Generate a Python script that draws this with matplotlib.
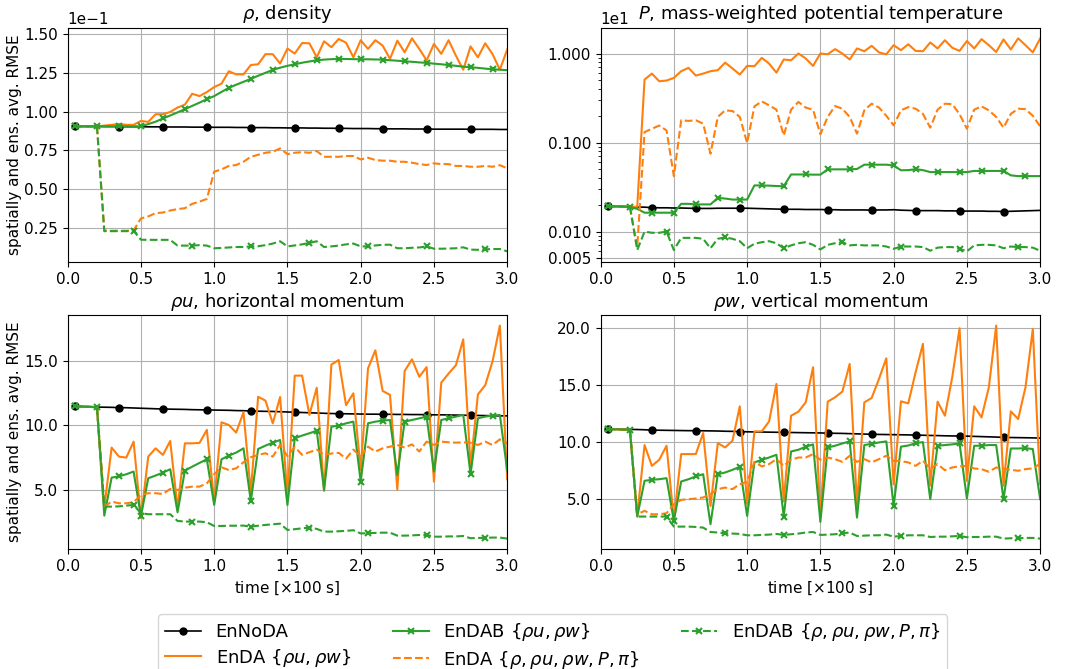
import numpy as np
import matplotlib
matplotlib.use('Agg')
import matplotlib.pyplot as plt
from matplotlib.ticker import FuncFormatter, MultipleLocator, FixedLocator, NullFormatter

# time axis, units of 100 s
t = np.round(np.arange(1, 61) * 0.05, 2)

# rho, density (axis in units of 1e-1)
rho_noda = [0.905, 0.905, 0.905, 0.905, 0.904, 0.904, 0.904, 0.903, 0.903, 0.903,
            0.902, 0.902, 0.902, 0.901, 0.901, 0.901, 0.900, 0.900, 0.900, 0.899,
            0.899, 0.899, 0.898, 0.898, 0.897, 0.897, 0.897, 0.896, 0.896, 0.895,
            0.895, 0.895, 0.894, 0.894, 0.893, 0.893, 0.892, 0.892, 0.891, 0.891,
            0.891, 0.890, 0.890, 0.889, 0.889, 0.889, 0.888, 0.888, 0.888, 0.887,
            0.887, 0.887, 0.887, 0.887, 0.886, 0.886, 0.886, 0.886, 0.885, 0.885]
rho_enda = [0.905, 0.905, 0.905, 0.905, 0.910, 0.915, 0.920, 0.915, 0.915, 0.940,
            0.934, 0.983, 0.983, 0.998, 1.026, 1.045, 1.115, 1.100, 1.126, 1.158,
            1.180, 1.260, 1.240, 1.240, 1.300, 1.305, 1.370, 1.370, 1.310, 1.406,
            1.374, 1.442, 1.440, 1.350, 1.453, 1.415, 1.468, 1.444, 1.350, 1.460,
            1.404, 1.460, 1.425, 1.340, 1.457, 1.382, 1.472, 1.404, 1.330, 1.436,
            1.372, 1.460, 1.360, 1.270, 1.420, 1.350, 1.440, 1.370, 1.270, 1.400]
rho_endab = [0.905, 0.905, 0.905, 0.905, 0.905, 0.905, 0.905, 0.905, 0.905, 0.905,
             0.920, 0.935, 0.956, 0.975, 0.995, 1.016, 1.037, 1.058, 1.080, 1.100,
             1.127, 1.153, 1.173, 1.192, 1.211, 1.231, 1.250, 1.269, 1.283, 1.295,
             1.305, 1.315, 1.323, 1.331, 1.335, 1.338, 1.339, 1.339, 1.338, 1.337,
             1.337, 1.336, 1.335, 1.331, 1.328, 1.324, 1.321, 1.317, 1.314, 1.309,
             1.305, 1.300, 1.295, 1.290, 1.286, 1.282, 1.277, 1.273, 1.270, 1.267]
rho_enda_all = [0.905, 0.905, 0.905, 0.905, 0.233, 0.233, 0.233, 0.233, 0.235, 0.312,
                0.325, 0.346, 0.350, 0.363, 0.372, 0.378, 0.406, 0.420, 0.438, 0.613,
                0.628, 0.650, 0.656, 0.677, 0.709, 0.722, 0.735, 0.741, 0.763, 0.726,
                0.735, 0.739, 0.735, 0.746, 0.709, 0.709, 0.709, 0.714, 0.714, 0.692,
                0.703, 0.688, 0.684, 0.684, 0.677, 0.677, 0.671, 0.662, 0.656, 0.667,
                0.662, 0.662, 0.650, 0.650, 0.645, 0.645, 0.650, 0.645, 0.655, 0.635]
rho_endab_all = [0.905, 0.905, 0.905, 0.905, 0.230, 0.230, 0.230, 0.230, 0.232, 0.175,
                 0.174, 0.174, 0.174, 0.174, 0.137, 0.137, 0.137, 0.140, 0.137, 0.120,
                 0.122, 0.125, 0.128, 0.128, 0.132, 0.133, 0.140, 0.150, 0.165, 0.132,
                 0.138, 0.145, 0.154, 0.165, 0.128, 0.132, 0.137, 0.145, 0.150, 0.132,
                 0.132, 0.138, 0.142, 0.143, 0.120, 0.120, 0.123, 0.125, 0.132, 0.117,
                 0.117, 0.118, 0.120, 0.126, 0.111, 0.110, 0.113, 0.115, 0.115, 0.100]

# P, mass-weighted potential temperature (axis in units of 1e1)
p_noda = [0.0193, 0.0192, 0.0191, 0.0190, 0.0189, 0.0188, 0.0186, 0.0185, 0.0185, 0.0184,
          0.0184, 0.0183, 0.0182, 0.0182, 0.0182, 0.0183, 0.0183, 0.0183, 0.0183, 0.0183,
          0.0182, 0.0181, 0.0180, 0.0179, 0.0178, 0.0178, 0.0178, 0.0177, 0.0177, 0.0177,
          0.0176, 0.0176, 0.0175, 0.0175, 0.0175, 0.0175, 0.0174, 0.0175, 0.0175, 0.0176,
          0.0174, 0.0173, 0.0172, 0.0172, 0.0172, 0.0172, 0.0171, 0.0171, 0.0170, 0.0170,
          0.0170, 0.0170, 0.0169, 0.0169, 0.0168, 0.0169, 0.0170, 0.0171, 0.0172, 0.0173]
p_enda = [0.0193, 0.0192, 0.0191, 0.0190, 0.0190, 0.510, 0.595, 0.488, 0.497, 0.532,
          0.633, 0.690, 0.565, 0.595, 0.633, 0.650, 0.790, 0.680, 0.580, 0.726,
          0.720, 0.894, 0.770, 0.610, 0.856, 0.840, 1.000, 0.880, 0.726, 1.000,
          0.980, 1.120, 1.000, 0.856, 1.140, 1.060, 1.220, 1.030, 0.980, 1.240,
          1.090, 1.270, 1.070, 1.060, 1.330, 1.140, 1.410, 1.160, 1.070, 1.380,
          1.140, 1.450, 1.240, 1.040, 1.440, 1.110, 1.480, 1.240, 1.030, 1.470]
p_endab = [0.0193, 0.0192, 0.0191, 0.0188, 0.0180, 0.0163, 0.0163, 0.0163, 0.0163, 0.0163,
           0.0205, 0.0205, 0.0202, 0.0202, 0.0202, 0.0239, 0.0235, 0.0229, 0.0229, 0.0229,
           0.0330, 0.0330, 0.0328, 0.0325, 0.0323, 0.0438, 0.0438, 0.0438, 0.0436, 0.0436,
           0.0500, 0.0500, 0.0500, 0.0500, 0.0505, 0.0564, 0.0564, 0.0564, 0.0564, 0.0553,
           0.0488, 0.0490, 0.0502, 0.0490, 0.0466, 0.0466, 0.0466, 0.0466, 0.0466, 0.0466,
           0.0480, 0.0480, 0.0480, 0.0480, 0.0480, 0.0428, 0.0420, 0.0420, 0.0420, 0.0420]
p_enda_all = [0.0193, 0.0192, 0.0191, 0.0190, 0.0067, 0.131, 0.143, 0.155, 0.137, 0.042,
              0.178, 0.175, 0.178, 0.163, 0.075, 0.194, 0.230, 0.226, 0.194, 0.099,
              0.255, 0.290, 0.262, 0.234, 0.120, 0.234, 0.286, 0.247, 0.234, 0.124,
              0.194, 0.257, 0.240, 0.194, 0.126, 0.230, 0.273, 0.247, 0.200, 0.156,
              0.230, 0.250, 0.240, 0.210, 0.147, 0.234, 0.273, 0.270, 0.208, 0.143,
              0.234, 0.255, 0.230, 0.194, 0.147, 0.210, 0.240, 0.237, 0.200, 0.152]
p_endab_all = [0.0193, 0.0192, 0.0191, 0.0190, 0.0062, 0.0100, 0.0097, 0.0097, 0.0100, 0.0062,
               0.0085, 0.0085, 0.0085, 0.0083, 0.0065, 0.0083, 0.0086, 0.0083, 0.0078, 0.0065,
               0.0073, 0.0076, 0.0078, 0.0074, 0.0065, 0.0070, 0.0074, 0.0076, 0.0071, 0.0063,
               0.0071, 0.0074, 0.0076, 0.0070, 0.0071, 0.0070, 0.0070, 0.0070, 0.0068, 0.0064,
               0.0068, 0.0068, 0.0068, 0.0067, 0.0061, 0.0066, 0.0067, 0.0067, 0.0064, 0.0060,
               0.0070, 0.0071, 0.0071, 0.0070, 0.0065, 0.0068, 0.0067, 0.0067, 0.0066, 0.0061]

# rho u, horizontal momentum
rhou_noda = [11.46, 11.44, 11.42, 11.40, 11.39, 11.38, 11.36, 11.35, 11.33, 11.31,
             11.29, 11.27, 11.25, 11.24, 11.23, 11.22, 11.20, 11.19, 11.18, 11.17,
             11.16, 11.15, 11.13, 11.12, 11.10, 11.08, 11.07, 11.06, 11.04, 11.02,
             11.00, 10.98, 10.96, 10.94, 10.92, 10.90, 10.89, 10.88, 10.87, 10.86,
             10.85, 10.85, 10.84, 10.84, 10.83, 10.83, 10.82, 10.82, 10.81, 10.80,
             10.80, 10.79, 10.78, 10.77, 10.76, 10.75, 10.74, 10.73, 10.72, 10.72]
rhou_enda = [11.46, 11.44, 11.42, 11.40, 3.60, 8.26, 7.56, 7.48, 8.72, 2.80,
             7.56, 8.20, 7.69, 8.77, 3.55, 8.59, 8.59, 8.62, 9.63, 4.07,
             10.22, 10.01, 9.42, 11.00, 4.80, 12.20, 11.90, 10.14, 12.18, 4.50,
             13.84, 13.84, 10.80, 12.90, 4.90, 14.70, 15.05, 11.55, 12.47, 6.50,
             14.40, 15.80, 12.65, 12.35, 5.00, 14.20, 15.10, 13.75, 14.50, 5.62,
             13.30, 14.00, 14.65, 16.65, 6.80, 12.38, 13.10, 14.95, 17.72, 5.80]
rhou_endab = [11.46, 11.44, 11.42, 11.38, 2.98, 5.93, 6.03, 6.19, 6.40, 2.95,
              5.88, 6.09, 6.32, 6.58, 3.24, 6.47, 6.78, 7.07, 7.35, 3.81,
              7.35, 7.64, 7.87, 8.20, 4.12, 8.15, 8.41, 8.64, 8.85, 3.81,
              8.98, 9.19, 9.37, 9.57, 4.97, 9.88, 9.96, 10.14, 10.27, 5.62,
              10.14, 10.27, 10.35, 10.40, 6.14, 10.27, 10.40, 10.53, 10.66, 6.40,
              10.40, 10.53, 10.66, 10.79, 6.20, 10.53, 10.66, 10.74, 10.79, 6.50]
rhou_enda_all = [11.46, 11.44, 11.42, 11.40, 3.68, 4.07, 3.94, 3.94, 4.02, 4.59,
                 4.72, 4.72, 4.66, 5.05, 4.97, 5.15, 5.23, 5.23, 5.49, 6.19,
                 6.73, 6.52, 6.65, 7.12, 7.51, 7.69, 7.82, 7.56, 8.46, 7.60,
                 8.30, 7.70, 7.90, 8.10, 7.70, 7.80, 7.85, 7.40, 8.10, 7.56,
                 8.33, 7.95, 8.20, 8.33, 8.46, 8.26, 8.51, 7.95, 8.72, 8.46,
                 8.72, 8.67, 8.64, 8.67, 8.64, 8.46, 8.72, 8.46, 8.90, 8.60]
rhou_endab_all = [11.46, 11.44, 11.42, 11.38, 3.68, 3.68, 3.70, 3.76, 3.81, 3.17,
                  3.09, 3.09, 3.09, 3.09, 2.57, 2.52, 2.52, 2.52, 2.47, 2.18,
                  2.18, 2.20, 2.20, 2.21, 2.13, 2.20, 2.26, 2.31, 2.36, 1.87,
                  1.93, 2.00, 2.05, 1.95, 1.74, 1.74, 1.77, 1.80, 1.85, 1.60,
                  1.62, 1.64, 1.66, 1.66, 1.43, 1.43, 1.45, 1.48, 1.48, 1.35,
                  1.35, 1.37, 1.37, 1.40, 1.23, 1.25, 1.26, 1.28, 1.28, 1.20]

# rho w, vertical momentum
rhow_noda = [11.14, 11.13, 11.12, 11.11, 11.10, 11.08, 11.05, 11.04, 11.03, 11.02,
             11.01, 11.00, 11.00, 10.99, 10.98, 10.97, 10.95, 10.94, 10.92, 10.90,
             10.89, 10.88, 10.87, 10.86, 10.85, 10.84, 10.83, 10.82, 10.81, 10.80,
             10.79, 10.77, 10.76, 10.74, 10.72, 10.70, 10.69, 10.67, 10.66, 10.65,
             10.64, 10.63, 10.61, 10.60, 10.58, 10.57, 10.55, 10.54, 10.53, 10.52,
             10.50, 10.48, 10.46, 10.44, 10.41, 10.40, 10.39, 10.38, 10.37, 10.35]
rhow_enda = [11.14, 11.12, 11.10, 11.08, 3.54, 9.74, 7.92, 8.45, 9.68, 3.20,
             8.95, 8.95, 8.95, 10.79, 4.40, 9.91, 9.53, 10.12, 13.13, 4.60,
             10.94, 10.94, 11.81, 15.09, 4.80, 12.31, 12.66, 13.48, 16.55, 3.50,
             13.54, 13.92, 14.42, 16.84, 4.50, 13.48, 13.86, 15.53, 17.34, 6.30,
             13.57, 13.39, 16.11, 18.60, 6.20, 13.54, 12.31, 15.67, 19.97, 6.60,
             13.13, 12.16, 14.80, 20.20, 6.17, 12.69, 12.02, 14.80, 19.90, 6.30]
rhow_endab = [11.14, 11.12, 11.10, 11.08, 3.48, 6.61, 6.70, 6.75, 6.84, 3.10,
              6.55, 6.75, 6.99, 7.19, 2.81, 7.19, 7.34, 7.57, 7.84, 3.54,
              8.22, 8.45, 8.65, 8.89, 3.48, 9.18, 9.33, 9.59, 9.80, 3.01,
              9.53, 9.68, 9.88, 10.06, 3.39, 9.74, 9.85, 9.97, 10.06, 4.42,
              9.60, 9.70, 9.90, 10.00, 5.00, 9.68, 9.74, 9.80, 9.88, 5.06,
              9.68, 9.68, 9.74, 9.74, 5.00, 9.44, 9.44, 9.47, 9.39, 5.00]
rhow_enda_all = [11.14, 11.12, 11.10, 11.08, 3.68, 3.98, 3.68, 3.68, 3.77, 4.56,
                 4.94, 5.00, 5.06, 5.15, 5.44, 5.88, 6.02, 5.88, 6.32, 6.52,
                 8.27, 7.87, 8.07, 8.51, 7.92, 8.45, 8.65, 8.65, 8.95, 8.45,
                 8.65, 8.51, 8.27, 8.80, 8.27, 8.51, 8.22, 8.51, 8.80, 8.36,
                 8.33, 8.22, 7.92, 8.36, 7.69, 8.07, 7.54, 7.78, 7.87, 7.92,
                 7.69, 7.63, 7.40, 7.78, 7.69, 7.57, 7.49, 7.63, 7.70, 8.10]
rhow_endab_all = [11.14, 11.12, 11.10, 11.08, 3.48, 3.48, 3.48, 3.48, 3.48, 2.60,
                  2.60, 2.60, 2.57, 2.51, 2.13, 2.08, 2.02, 1.99, 1.96, 1.84,
                  1.84, 1.87, 1.90, 1.96, 1.87, 1.93, 1.99, 2.08, 2.13, 1.87,
                  1.90, 1.93, 2.02, 2.08, 1.78, 1.81, 1.84, 1.84, 1.90, 1.72,
                  1.78, 1.84, 1.84, 1.84, 1.69, 1.72, 1.72, 1.75, 1.78, 1.67,
                  1.69, 1.69, 1.72, 1.72, 1.55, 1.58, 1.58, 1.61, 1.61, 1.55]

labels = ['EnNoDA',
          r'EnDA $\{\rho u, \rho w\}$',
          r'EnDAB $\{\rho u, \rho w\}$',
          r'EnDA $\{\rho, \rho u, \rho w, P, \pi\}$',
          r'EnDAB $\{\rho, \rho u, \rho w, P, \pi\}$']

titles = [r'$\rho$, density',
          r'$P$, mass-weighted potential temperature',
          r'$\rho u$, horizontal momentum',
          r'$\rho w$, vertical momentum']

panels = [
    [rho_noda, rho_enda, rho_endab, rho_enda_all, rho_endab_all],
    [p_noda, p_enda, p_endab, p_enda_all, p_endab_all],
    [rhou_noda, rhou_enda, rhou_endab, rhou_enda_all, rhou_endab_all],
    [rhow_noda, rhow_enda, rhow_endab, rhow_enda_all, rhow_endab_all],
]

orange = '#ff7f0e'
green = '#2ca02c'
styles = [
    dict(color='k', marker='o', markevery=6, ms=5, lw=1.2),
    dict(color=orange, ls='-', lw=1.5),
    dict(color=green, ls='-', marker='x', markevery=3, ms=5, mew=1.5, lw=1.5),
    dict(color=orange, ls='--', lw=1.5),
    dict(color=green, ls='--', marker='x', markevery=8, ms=5, mew=1.5, lw=1.5),
]

plt.rcParams['font.size'] = 11

fig, axes = plt.subplots(2, 2, figsize=(10.69, 6.69), dpi=100)
fig.subplots_adjust(left=0.0633, right=0.973, top=0.9586, bottom=0.179,
                    wspace=0.2125, hspace=0.226)

for ax, series, title in zip(axes.flat, panels, titles):
    for vals, st, lab in zip(series, styles, labels):
        ax.plot(t, vals, label=lab, **st)
    ax.set_title(title, fontsize=13)
    ax.set_xlim(0, 3.0)
    ax.xaxis.set_major_locator(MultipleLocator(0.5))
    ax.grid(True)
    ax.tick_params(labelsize=11)

# rho panel: values shown in units of 1e-1
ax = axes[0, 0]
ax.yaxis.set_major_locator(MultipleLocator(0.25))
f1 = FuncFormatter(lambda v, p: f'{v:.2f}')
f1.set_offset_string('1e\u22121')
ax.yaxis.set_major_formatter(f1)

# P panel: log scale, shown in units of 1e1
ax = axes[0, 1]
ax.set_yscale('log')
ax.yaxis.set_major_locator(FixedLocator([0.005, 0.01, 0.1, 1.0]))
f2 = FuncFormatter(lambda v, p: f'{v:.3f}')
f2.set_offset_string('1e1')
ax.yaxis.set_major_formatter(f2)
ax.yaxis.set_minor_formatter(NullFormatter())

for ax in axes[1]:
    ax.yaxis.set_major_locator(MultipleLocator(5))
    ax.yaxis.set_major_formatter(FuncFormatter(lambda v, p: f'{v:.1f}'))
    ax.set_xlabel(r'time [$\times$100 s]', fontsize=11)

for ax in axes[:, 0]:
    ax.set_ylabel('spatially and ens. avg. RMSE', fontsize=11, labelpad=1.5)

handles, labs = axes[0, 0].get_legend_handles_labels()
fig.legend(handles, labs, loc='upper center', bbox_to_anchor=(0.517, 0.082),
           ncol=3, fontsize=13, borderaxespad=0, labelspacing=0.3,
           columnspacing=2.3)

fig.savefig('out.png', dpi=100)
